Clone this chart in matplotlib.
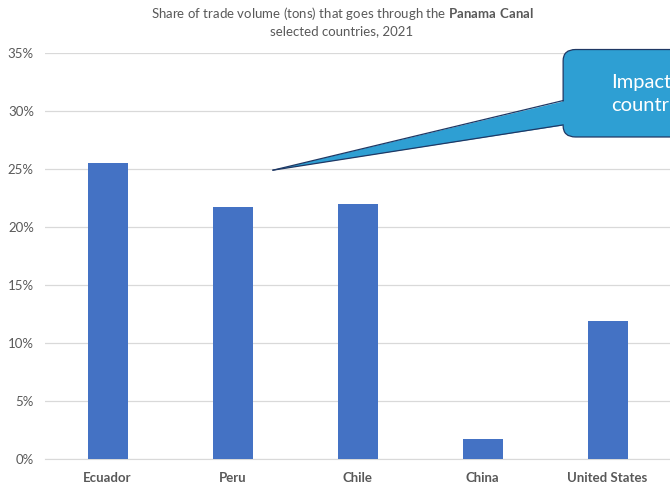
import matplotlib
matplotlib.use('Agg')
import matplotlib.pyplot as plt
from matplotlib.patches import FancyBboxPatch, Polygon
from matplotlib.lines import Line2D
from matplotlib.ticker import PercentFormatter

countries = ["Ecuador", "Peru", "Chile", "China", "United States"]
canal_share = [0.255, 0.217, 0.220, 0.017, 0.119]

BAR_BLUE = "#4472C4"
CALLOUT_BLUE = "#2E9FD3"
CALLOUT_EDGE = "#1F3864"
GRID_GREY = "#D9D9D9"
TEXT_GREY = "#595959"

plt.rcParams['font.family'] = ['Lato', 'DejaVu Sans']
plt.rcParams['mathtext.fontset'] = 'custom'
plt.rcParams['mathtext.rm'] = 'Lato'
plt.rcParams['mathtext.bf'] = 'Lato:bold'

fig = plt.figure(figsize=(6.7, 4.86), dpi=100)
ax = fig.add_axes([45 / 670, 1 - 459 / 486, 1 - 45 / 670, (459 - 53) / 486])

x = range(len(countries))
ax.bar(x, canal_share, width=0.32, color=BAR_BLUE, zorder=3)

ax.set_xlim(-0.5, len(countries) - 0.5)
ax.set_ylim(0, 0.35)
ax.set_yticks([i * 0.05 for i in range(8)])
ax.yaxis.set_major_formatter(PercentFormatter(1.0, decimals=0))
ax.set_xticks(list(x))
ax.set_xticklabels(countries, fontweight='bold')

ax.tick_params(axis='both', length=0, colors=TEXT_GREY, labelsize=9.5)
ax.tick_params(axis='y', pad=8)
ax.tick_params(axis='x', pad=9)
ax.grid(axis='y', color=GRID_GREY, linewidth=0.9, zorder=0)
for side in ['top', 'right', 'left']:
    ax.spines[side].set_visible(False)
ax.spines['bottom'].set_color(GRID_GREY)

# two-line title, "Panama Canal" in bold
fig.text(342 / 670, 1 - 14 / 486,
         r"Share of trade volume (tons) that goes through the $\bf{Panama\ Canal}$",
         ha='center', va='center', fontsize=9.5, color=TEXT_GREY)
fig.text(342 / 670, 1 - 31 / 486, "selected countries, 2021",
         ha='center', va='center', fontsize=9.5, color=TEXT_GREY)

# speech-bubble callout pointing at the chart, running off the right edge
box = FancyBboxPatch((3.645, 0.2776), 1.6, 0.0754,
                     boxstyle="round,pad=0,rounding_size=0.1",
                     mutation_aspect=0.035 / 0.36,
                     facecolor=CALLOUT_BLUE, edgecolor=CALLOUT_EDGE,
                     linewidth=0.9, clip_on=False, zorder=5)
ax.add_patch(box)
tip = (1.324, 0.249)
base_hi = (3.645, 0.309)
base_lo = (3.645, 0.288)
tail = Polygon([tip, (base_hi[0] + 0.03, base_hi[1]), (base_lo[0] + 0.03, base_lo[1])],
               closed=True, facecolor=CALLOUT_BLUE, edgecolor='none',
               clip_on=False, zorder=6)
ax.add_patch(tail)
for end in (base_hi, base_lo):
    ax.add_line(Line2D([tip[0], end[0]], [tip[1], end[1]], color=CALLOUT_EDGE,
                       linewidth=0.9, clip_on=False, zorder=7))
ax.text(4.36, 0.3145, "Impacted\ncountries", ha='center', va='center',
        fontsize=14.5, color='white', linespacing=1.4, clip_on=False, zorder=8)

fig.savefig("out.png", dpi=100)
